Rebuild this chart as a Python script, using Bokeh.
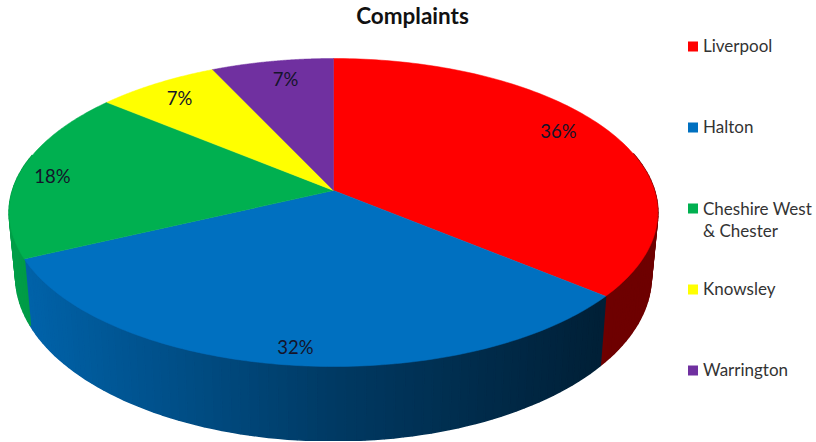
import numpy as np
from bokeh.plotting import figure
from bokeh.models import Range1d, ColumnDataSource
from bokeh.core.properties import value
from bokeh.embed import file_html
from bokeh.resources import INLINE

title = "Complaints"
categories = ["Liverpool", "Halton", "Cheshire West\n& Chester", "Knowsley", "Warrington"]
shares = [36, 32, 18, 7, 7]
colors = ["#FF0000", "#0070C0", "#00B050", "#FFFF00", "#7030A0"]
wall_gain = [1.55, 1.0, 1.0, 1.0, 1.0]
label_x = [558, 295, 52, 179, 285]
label_y = [130, 346, 175, 97, 78]
legend_y = [46, 127, 208, 289, 370]
legend_text_y = [45, 126, 219, 288, 369]

CX, CY, BX, BY, K = 333.0, 190.0, 321.0, 150.86, 1 / 7
WALL_S_X, WALL_S_Y, WALL_CY = 0.98, 1.07, 252.0


def top(theta):
    u, v = np.sin(theta), np.cos(theta)
    f = 1 / (1 + K * v)
    return CX + BX * u * f, CY - BY * v * f


def bottom(theta):
    x, y = top(theta)
    return CX + (x - CX) * WALL_S_X, WALL_CY + (y - CY) * WALL_S_Y


def shade(hex_color, factor):
    rgb = [int(hex_color[i:i + 2], 16) for i in (1, 3, 5)]
    return "#%02x%02x%02x" % tuple(int(min(255, c * factor)) for c in rgb)


fractions = np.cumsum([0] + shares) / sum(shares) * 2 * np.pi

p = figure(width=815, height=441, output_backend="svg", toolbar_location=None,
           x_range=Range1d(0, 815), y_range=Range1d(441, 0),
           min_border=0, outline_line_color=None, background_fill_color="white",
           border_fill_color="white")
p.axis.visible = False
p.grid.visible = False

# side wall: overlapping strips, painted in order so no seams show
wx, wy, wc = [], [], []
for i in range(len(shares)):
    a0, a1 = fractions[i], fractions[i + 1]
    steps = max(2, int((a1 - a0) / np.radians(1.5)))
    t = np.linspace(a0, a1, steps + 1)
    for t0, t1 in zip(t[:-1], t[1:]):
        if np.cos((t0 + t1) / 2) > 0.25:
            continue
        x0, y0 = top(t0)
        x1, y1 = top(t1)
        x2, y2 = bottom(t1)
        x3, y3 = bottom(t0)
        factor = np.interp((x0 + x1) / 2, [10, 333, 610, 660], [0.90, 0.52, 0.28, 0.28])
        wx.append([x0, x1, x2, x3])
        wy.append([y0, y1, y2, y3])
        wc.append(shade(colors[i], factor * wall_gain[i]))
p.patches(wx, wy, fill_color=wc, line_color=wc, line_width=1.6)

# top faces
for i in range(len(shares)):
    t = np.linspace(fractions[i], fractions[i + 1], 120)
    x, y = top(t)
    p.patch(np.r_[CX, x], np.r_[CY, y], fill_color=colors[i], line_color=colors[i], line_width=0.5)

# percent labels
p.text(label_x, label_y, text=[f"{s}%" for s in shares], text_align="center", text_baseline="middle",
       text_font=value("Lato"), text_font_size="18.5px", text_color="#14142a")

# legend
src = ColumnDataSource(dict(x=[692.5] * 5, y=legend_y, c=colors))
p.rect("x", "y", width=10, height=10, fill_color="c", line_color=None, source=src)
p.text([702.5] * 5, legend_text_y, text=categories, text_align="left", text_baseline="middle",
       text_font=value("Lato"), text_font_size="17px", text_color="#333333", text_line_height=1.08)

p.text([412], [15], text=[title], text_align="center", text_baseline="middle",
       text_font=value("Lato"), text_font_size="22.5px", text_font_style="bold", text_color="#111111")

open("out.html", "w").write(file_html(p, INLINE))
